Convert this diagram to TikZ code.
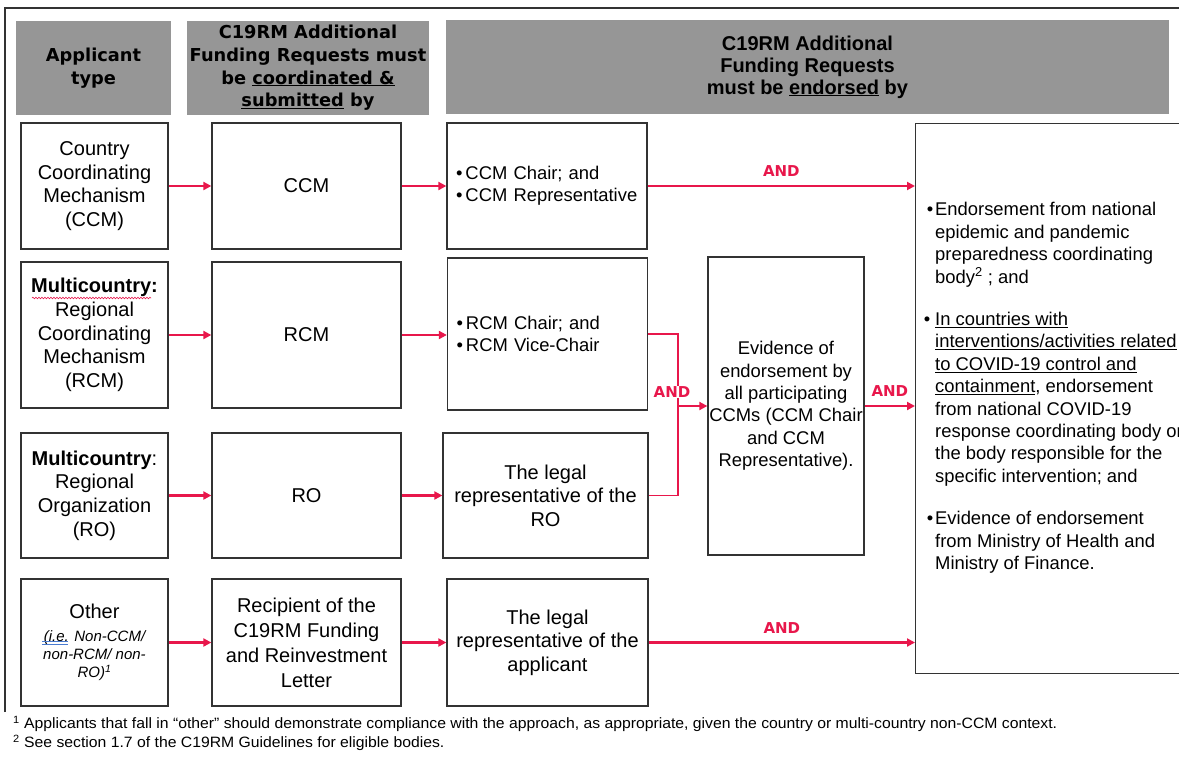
\documentclass[tikz,border=0pt]{standalone}
\usepackage{fontspec}
\setmainfont{Liberation Sans}
\newfontfamily\heavyfont{DejaVu Sans}
\newfontfamily\footfont{Liberation Sans}[Ligatures=TeX, FakeStretch=1.05]
\usetikzlibrary{arrows.meta, decorations.pathmorphing}

\definecolor{hdrgray}{HTML}{969696}
\definecolor{andred}{HTML}{E8174B}
\definecolor{edgegray}{HTML}{333333}
\definecolor{checkblue}{HTML}{4A7BD0}

\newcommand{\cellfont}{\fontsize{20}{23.6}\selectfont}
\newcommand{\notefont}{\fontsize{18.4}{22.4}\selectfont}
\newcommand{\headfont}{\heavyfont\bfseries\fontsize{17.8}{22.6}\selectfont}
\newcommand{\undl}[1]{\underline{\smash{#1}}}

\tikzset{
  hdr/.style={fill=hdrgray, minimum height=94pt, inner sep=0pt, align=center},
  cellbox/.style={draw=edgegray, line width=1.3pt, fill=white, inner sep=0pt, align=center, font=\cellfont},
  bulletbox/.style={cellbox, align=left, font=\notefont, text width=182pt, inner xsep=9pt},
  redarrow/.style={draw=andred, line width=2.2pt, -{Triangle[length=8pt,width=8pt]}},
  bracketline/.style={draw=andred, line width=1.4pt},
  andlabel/.style={text=andred, font=\heavyfont\bfseries\fontsize{15}{18}\selectfont, inner sep=1pt},
  footnote/.style={anchor=west, inner sep=0pt, font=\footfont\fontsize{15}{17}\selectfont},
}

\begin{document}
\begin{tikzpicture}[x=1pt, y=-1pt]
  \useasboundingbox (0,0) rectangle (1179,756);
  \fill[white] (0,0) rectangle (1179,756);
  \clip (0,0) rectangle (1179,756);

  % Frame
  \draw[edgegray, line width=1.6pt] (5,712) -- (5,8) -- (1190,8);

  % Header row
  \node[hdr, minimum width=155pt, font=\headfont] (h1) at (93.5,68) {Applicant\\type};
  \node[hdr, minimum width=242pt, font=\headfont] (h2) at (308,68)
    {C19RM Additional\\Funding Requests must\\be \undl{coordinated \&}\\\undl{submitted} by};
  \node[hdr, minimum width=723pt, font=\bfseries\fontsize{20}{22}\selectfont] (h3) at (807.5,67)
    {C19RM Additional\\Funding Requests\\must be \undl{endorsed} by};

  % Row 1: CCM
  \node[cellbox, minimum width=147pt, minimum height=126pt] (a1) at (94.5,186) {Country\\Coordinating\\Mechanism\\(CCM)};
  \node[cellbox, minimum width=189pt, minimum height=126pt] (b1) at (306.5,186) {CCM};
  \node[bulletbox, minimum height=126pt] (c1) at (547,186) {\textbullet\,CCM Chair; and\\\textbullet\,CCM Representative};

  % Row 2: RCM
  \node[cellbox, minimum width=147pt, minimum height=146pt] (a2) at (94.5,335) {\textbf{Multicountry:}\\Regional\\Coordinating\\Mechanism\\(RCM)};
  \node[cellbox, minimum width=189pt, minimum height=146pt] (b2) at (306.5,335) {RCM};
  \node[bulletbox, minimum height=152pt] (c2) at (547.5,334) {\textbullet\,RCM Chair; and\\\textbullet\,RCM Vice-Chair};

  % Row 3: RO
  \node[cellbox, minimum width=147pt, minimum height=125pt] (a3) at (94.5,495.5) {\textbf{Multicountry}:\\Regional\\Organization\\(RO)};
  \node[cellbox, minimum width=189pt, minimum height=125pt] (b3) at (306.5,495.5) {RO};
  \node[cellbox, minimum width=205pt, minimum height=125pt] (c3) at (545.5,495.5) {The legal\\representative of the\\RO};

  % Row 4: other applicants
  \node[cellbox, minimum width=147pt, minimum height=127pt, font=\fontsize{15}{18}\selectfont\itshape] (a4) at (94.5,642.5)
    {{\fontsize{20}{24}\selectfont\upshape Other}\\[5pt](i.e. Non-CCM/\\non-RCM/ non-\\RO)\textsuperscript{1}};
  \node[cellbox, minimum width=189pt, minimum height=127pt, font=\fontsize{20}{25}\selectfont] (b4) at (306.5,642.5) {Recipient of the\\C19RM Funding\\and Reinvestment\\Letter};
  \node[cellbox, minimum width=201pt, minimum height=127pt] (c4) at (547.5,642.5) {The legal\\representative of the\\applicant};

  % Endorsement boxes
  \node[cellbox, font=\notefont, minimum width=156pt, minimum height=298pt] (E) at (786,406)
    {Evidence of\\endorsement by\\all participating\\CCMs (CCM Chair\\and CCM\\Representative).};
  \node[cellbox, minimum width=300pt, minimum height=550pt, anchor=north west] (R) at (915,123) {};
  \node[font=\notefont, align=left, anchor=west, inner sep=0pt] (Rtext) at (935,388)
    {\llap{\textbullet\hspace{2pt}}Endorsement from national\\
     epidemic and pandemic\\
     preparedness coordinating\\
     body\textsuperscript{2} ; and\\[20pt]
     \llap{\textbullet\hspace{5pt}}\undl{In countries with}\\
     \undl{interventions/activities related}\\
     \undl{to COVID-19 control and}\\
     \undl{containment}, endorsement\\
     from national COVID-19\\
     response coordinating body or\\
     the body responsible for the\\
     specific intervention; and\\[20pt]
     \llap{\textbullet\hspace{2pt}}Evidence of endorsement\\
     from Ministry of Health and\\
     Ministry of Finance.};

  % Arrows
  \draw[redarrow] (a1) -- (b1);
  \draw[redarrow] (b1) -- (c1);
  \draw[redarrow] (c1) -- (c1 -| R.west) node[midway, above=7pt, andlabel] (and1) {AND};
  \draw[redarrow] (a2) -- (b2);
  \draw[redarrow] (b2.east) -- (b2.east -| c2.west);
  \draw[redarrow] (a3) -- (b3);
  \draw[redarrow] (b3) -- (c3);
  \draw[redarrow] (a4) -- (b4);
  \draw[redarrow] (b4) -- (c4);
  \draw[redarrow] (c4) -- (c4 -| R.west) node[midway, above=7pt, andlabel] (and4) {AND};

  % Joint RCM / RO endorsement
  \coordinate (j) at (678,406);
  \draw[bracketline] (c2.east) -| (j) |- (c3.east);
  \draw[redarrow, line width=1.8pt] (j) -- (E.west);
  \node[andlabel, fill=white] (and2) at (672,392) {AND};
  \draw[redarrow] (E) -- (E -| R.west) node[midway, above=7pt, andlabel] (and3) {AND};

  % Spelling marks
  \draw[andred, line width=0.6pt, decorate, decoration={snake, amplitude=0.8pt, segment length=3pt}] (32,298) -- (151,298);
  \draw[checkblue, line width=0.8pt] (42,641.5) -- (68,641.5) (42,644.5) -- (68,644.5);

  % Footnotes
  \node[footnote] (fn1) at (13,724)
    {\textsuperscript{1} Applicants that fall in “other” should demonstrate compliance with the approach, as appropriate, given the country or multi-country non-CCM context.};
  \node[footnote] (fn2) at (13,743)
    {\textsuperscript{2} See section 1.7 of the C19RM Guidelines for eligible bodies.};
\end{tikzpicture}
\end{document}
